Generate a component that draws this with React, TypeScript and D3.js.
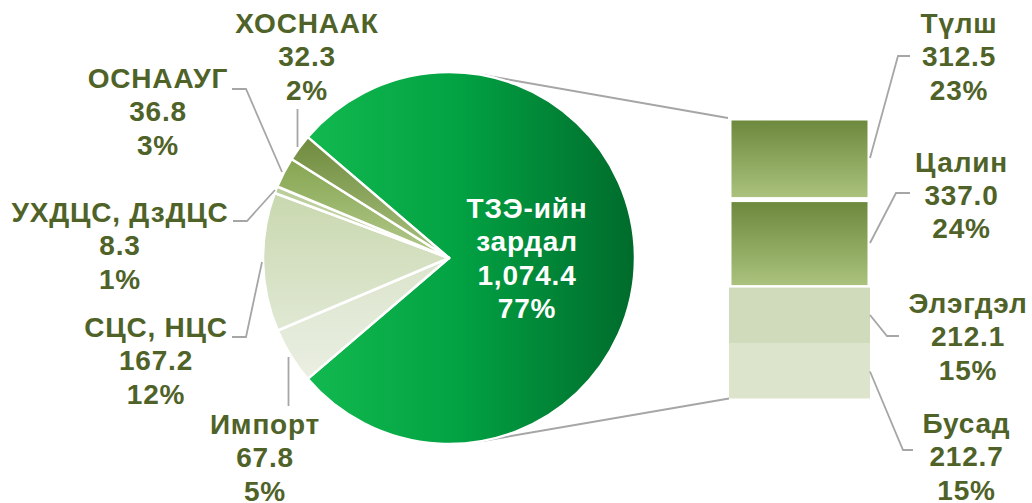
import React from "react";
import * as d3 from "d3";

// ---- data ----
const pieNames = ["ТЗЭ-ийн зардал", "Импорт", "СЦС, НЦС", "УХДЦС, ДзДЦС", "ОСНААУГ", "ХОСНААК"];
const pieValues = [1074.4, 67.8, 167.2, 8.3, 36.8, 32.3];
const barNames = ["Түлш", "Цалин", "Элэгдэл", "Бусад"];
const barValues = [312.5, 337.0, 212.1, 212.7];

// ---- styling / layout ----
const W = 1032, H = 503;
const CX = 449, CY = 258, R = 186;
const BAR_X0 = 729, BAR_X1 = 870, BAR_Y0 = 118, BAR_Y1 = 398.5;
const TEXT = "#4f6228";
const LEAD = "#a6a6a6";
const FONT = "'Liberation Sans', Arial, sans-serif";
const FS = 28;
const LS = 0.8;
const LH = 33.3;

const sliceGrad = [
  null,
  ["#dbe4cc", "#eaefe2"],
  ["#c9d8af", "#e0e8d3"],
  ["#b9cc98", "#c9d8ae"],
  ["#86a651", "#b3c98c"],
  ["#6f8b3e", "#a9c17f"],
];
const barFill = ["url(#gBarDark)", "url(#gBarDark)", "#cfdbbb", "#dce5cc"];

// label layout: [centerX, firstBaseline], leader polyline
const pieLabelPos: [number, number][] = [
  [527, 218],
  [265, 434],
  [156, 337],
  [120, 222],
  [158, 88],
  [307, 33],
];
const pieLeaders: [number, number][][] = [
  [],
  [[288.5, 357], [288.5, 406]],
  [[262, 262], [246, 337], [232, 337]],
  [[275, 190], [247, 221], [233, 221]],
  [[282, 172], [246, 89], [232, 89]],
  [[297.5, 147], [297.5, 109]],
];
const barLabelPos: [number, number][] = [
  [959, 33],
  [961.5, 171.5],
  [968, 313],
  [966.5, 433],
];
const barLeaders: [number, number][][] = [
  [[870, 158], [898, 56], [910, 56]],
  [[870, 243], [896, 193], [910, 193]],
  [[870, 315], [887, 336], [899, 336]],
  [[870, 371.5], [903, 450], [913, 450]],
];

export default function App() {
  const total = d3.sum(pieValues);
  const fmtV = d3.format(",.1f");
  const fmtP = d3.format(".0%");

  const bigFrac = pieValues[0] / total;
  const start = Math.PI / 2 - bigFrac * Math.PI;
  const pie = d3.pie<number>().sort(null).value((d) => d).startAngle(start).endAngle(start + 2 * Math.PI);
  const arcs = pie(pieValues);
  const arcGen = d3.arc<d3.PieArcDatum<number>>().innerRadius(0).outerRadius(R);

  const barTotal = d3.sum(barValues);
  const y = d3.scaleLinear().domain([0, barTotal]).range([BAR_Y0, BAR_Y1]);
  const cum = d3.cumsum(barValues);

  const tangent = (px: number, py: number, upper: boolean) => {
    const dx = px - CX, dy = py - CY;
    const d = Math.hypot(dx, dy);
    const th = Math.atan2(dy, dx);
    const a = Math.acos(R / d);
    const t = upper ? th - a : th + a;
    return [CX + R * Math.cos(t), CY + R * Math.sin(t)];
  };
  const tTop = tangent(BAR_X0 - 1, BAR_Y0, true);
  const tBot = tangent(BAR_X0, BAR_Y1, false);

  const line = d3.line();

  const label = (lines: string[], x: number, y0: number, fill: string, key: string) => (
    <text
      key={key}
      x={x}
      y={y0}
      textAnchor="middle"
      fontFamily={FONT}
      fontWeight="bold"
      fontSize={FS}
      letterSpacing={LS}
      fill={fill}
    >
      {lines.map((l, i) => (
        <tspan key={i} x={x} y={y0 + i * LH}>
          {l}
        </tspan>
      ))}
    </text>
  );

  return (
    <svg width={W} height={H} style={{ position: "absolute", left: 0, top: 0, background: "#fff" }}>
      <defs>
        <linearGradient id="gBig" x1="0" y1="0" x2="1" y2="0">
          <stop offset="0" stopColor="#12b94f" />
          <stop offset="0.45" stopColor="#02a343" />
          <stop offset="1" stopColor="#006b2c" />
        </linearGradient>
        <linearGradient id="gBarDark" x1="0" y1="0" x2="0" y2="1">
          <stop offset="0" stopColor="#6d893d" />
          <stop offset="1" stopColor="#aac27d" />
        </linearGradient>
        {sliceGrad.map((g, i) =>
          g ? (
            <linearGradient key={i} id={`gs${i}`} x1="0" y1="0" x2="0" y2="1">
              <stop offset="0" stopColor={g[0]} />
              <stop offset="1" stopColor={g[1]} />
            </linearGradient>
          ) : null
        )}
      </defs>

      {/* connector lines */}
      <path d={line([[tTop[0], tTop[1]], [BAR_X0 - 1, BAR_Y0]])!} stroke={LEAD} strokeWidth={2} fill="none" />
      <path d={line([[tBot[0], tBot[1]], [BAR_X0, BAR_Y1]])!} stroke={LEAD} strokeWidth={2} fill="none" />

      {/* pie */}
      <g transform={`translate(${CX},${CY})`}>
        {arcs.map((a, i) => (
          <path
            key={i}
            d={arcGen(a)!}
            fill={i === 0 ? "url(#gBig)" : `url(#gs${i})`}
            stroke="#fff"
            strokeWidth={2.5}
            strokeLinejoin="round"
          />
        ))}
      </g>

      {/* bar */}
      {barValues.map((v, i) => {
        const y0 = y(cum[i] - v);
        const y1 = y(cum[i]);
        const inset = i < 2 ? 2.5 : 0;
        return (
          <rect
            key={i}
            x={BAR_X0 + inset}
            y={y0 + inset}
            width={BAR_X1 - BAR_X0 - 2 * inset}
            height={y1 - y0 - 2 * inset}
            fill={barFill[i]}
          />
        );
      })}

      {/* leaders */}
      {pieLeaders.map((pts, i) =>
        pts.length ? <path key={"pl" + i} d={line(pts)!} stroke={LEAD} strokeWidth={1.8} fill="none" /> : null
      )}
      {barLeaders.map((pts, i) => (
        <path key={"bl" + i} d={line(pts)!} stroke={LEAD} strokeWidth={1.8} fill="none" />
      ))}

      {/* labels */}
      {pieNames.map((n, i) => {
        const nameLines = i === 0 ? n.split(" ") : [n];
        const lines = [...nameLines, fmtV(pieValues[i]), fmtP(pieValues[i] / total)];
        return label(lines, pieLabelPos[i][0], pieLabelPos[i][1], i === 0 ? "#fff" : TEXT, "p" + i);
      })}
      {barNames.map((n, i) =>
        label([n, fmtV(barValues[i]), fmtP(barValues[i] / total)], barLabelPos[i][0], barLabelPos[i][1], TEXT, "b" + i)
      )}
    </svg>
  );
}
